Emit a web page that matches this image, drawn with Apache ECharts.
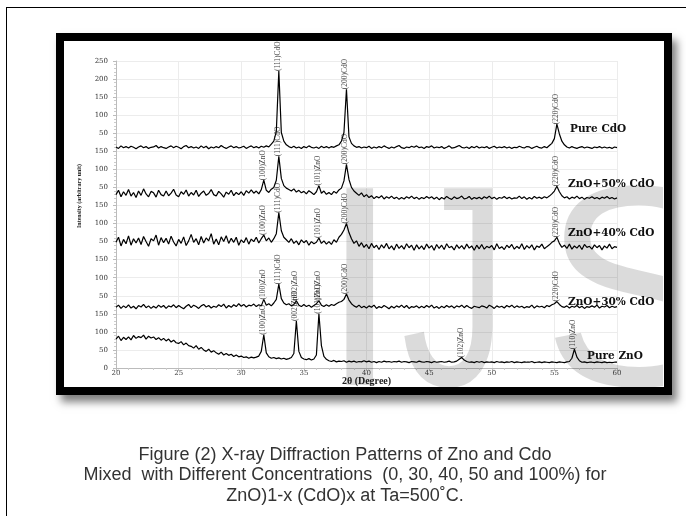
<!DOCTYPE html>
<html><head><meta charset="utf-8">
<script src="https://cdn.jsdelivr.net/npm/echarts/dist/echarts.min.js"></script>
<style>
html,body{margin:0;padding:0;background:#fff;}
body{width:686px;height:516px;position:relative;overflow:hidden;}
#outer{position:absolute;left:6px;top:7px;width:700px;height:520px;border-left:1.5px solid #000;border-top:1.5px solid #000;}
#frame{position:absolute;left:56px;top:33px;width:616px;height:362px;box-sizing:border-box;border:8px solid #000;background:#fff;box-shadow:5px 7px 8px rgba(0,0,0,0.5);}
#chart{position:absolute;left:0;top:0;width:686px;height:516px;}
#wm{position:absolute;left:63px;top:41px;width:600px;height:346px;overflow:hidden;pointer-events:none;}
#wm span{position:absolute;top:102px;font:286px/1 "Liberation Sans";color:rgba(0,0,0,0.14);white-space:nowrap;transform-origin:0 0;}
</style></head>
<body>
<div id="outer"></div>
<div id="frame"></div>
<div id="chart"></div>
<div id="wm"><span style="left:257px">I</span><span style="left:338px;transform:scaleX(0.75)">J</span><span style="left:479px">S</span></div>
<script>
// 2θ sampling grid (degrees), 20..60 step 0.2
const twoTheta = [];
for (let i = 0; i <= 200; i++) twoTheta.push(Math.round((20 + i * 0.2) * 10) / 10);

// y tick labels (stacked patterns, each 50 units)
const yTickLabels = ['0','50','100','150','50','100','150','50','100','150','50','100','150','50','100','150','200','250'];

// Pure ZnO (plotted on stacked axis)
const pureZnO = [
80,88,76,85,79, 86,78,90,82,87, 84,91,80,88,83, 86,79,84,77,82,
75,80,72,77,70, 68,73,64,69,62, 60,55,62,52,57, 50,46,52,44,48,
42,38,44,36,40, 35,38,32,36,31, 33,29,31,27,30, 28,30,33,46,92,
42,31,27,29,26, 28,25,27,24,26, 29,40,130,46,29, 25,23,26,22,25,
36,150,62,32,24, 20,18,21,17,19, 18,20,16,19,17, 19,16,18,17,20,
17,19,16,18,15, 18,16,19,17,18, 16,18,17,19,16, 18,17,15,18,17,
16,19,17,16,18, 17,15,18,16,17, 18,16,17,19,16, 17,19,24,29,22,
18,16,17,15,18, 16,18,15,17,16, 17,15,18,16,17, 15,17,16,18,15,
17,16,15,17,16, 16,18,15,16,17, 15,17,16,15,17, 16,15,17,16,15,
17,18,27,52,30, 20,16,17,15,16, 16,15,17,16,15, 17,15,16,15,16,
16];

// ZnO + 30% CdO
const zno30 = [
168,174,165,172,167, 175,166,171,164,173, 169,176,167,172,165, 171,166,174,168,173,
165,172,169,175,167, 173,168,164,171,176, 167,174,170,165,172, 176,169,173,166,171,
168,175,170,177,166, 173,168,175,170,178, 171,176,169,174,172, 177,170,175,172,190,
174,178,172,180,190, 232,192,180,175,178, 172,176,186,174,170, 176,170,174,168,173,
178,186,174,170,175, 171,176,173,178,182, 184,190,205,188,178, 172,168,174,167,171,
166,172,168,174,165, 170,167,173,169,164, 171,166,172,168,174, 167,173,165,170,168,
172,166,171,167,173, 168,174,166,170,165, 171,167,173,168,172, 166,172,169,174,167,
173,168,165,171,169, 167,172,170,166,174, 170,165,172,168,171, 166,173,169,174,167,
172,168,171,166,170, 168,174,166,172,169, 171,167,173,170,175, 178,184,176,170,168,
172,166,171,168,173, 167,171,165,170,168, 172,168,174,166,171, 169,173,167,171,168,
170];

// ZnO + 40% CdO
const zno40 = [
348,362,338,356,344, 366,340,358,346,360, 342,364,350,337,358, 352,368,340,361,347,
359,343,365,349,338, 356,345,363,339,352, 370,348,358,341,364, 346,360,352,372,343,
357,341,363,350,366, 345,359,348,362,340, 355,347,361,343,357, 350,362,346,358,368,
352,360,348,358,372, 430,380,362,355,348, 358,345,352,341,355, 347,353,340,350,344,
348,360,345,352,343, 350,342,355,348,362, 370,382,400,375,358, 345,352,337,347,334,
342,330,345,333,340, 328,341,332,345,330, 338,327,343,331,339, 329,344,333,340,326,
341,330,338,328,343, 332,339,326,342,331, 340,328,344,333,337, 327,341,331,339,329,
343,332,338,326,340, 330,342,329,337,333, 339,327,344,331,336, 328,340,333,342,329,
337,331,344,328,339, 332,341,327,338,334, 343,330,336,341,348, 352,362,345,334,340,
331,343,329,338,332, 340,328,342,334,337, 329,341,333,339,327, 338,332,343,330,336,
334];

// ZnO + 50% CdO
const zno50 = [
480,492,474,488,478, 494,476,486,472,490, 478,496,482,474,489, 485,473,492,480,476,
490,477,484,495,479, 474,488,481,493,476, 486,479,492,475,484, 490,478,483,494,480,
476,489,482,473,487, 481,492,477,486,480, 488,478,491,484,493, 484,490,482,494,520,
492,486,495,500,520, 586,525,505,498,494, 490,496,487,492,485, 489,482,491,486,480,
488,505,484,490,481, 486,480,489,484,493, 498,518,564,522,500, 490,484,478,485,474,
480,472,477,469,475, 471,477,468,474,470, 476,469,473,467,472, 468,474,470,476,469,
473,467,472,469,475, 470,474,468,473,466, 472,468,475,470,467, 474,469,471,476,468,
470,475,467,472,469, 473,468,474,470,476, 469,473,467,472,470, 475,469,473,468,471,
470,476,469,474,467, 472,468,475,470,473, 469,474,471,476,482, 490,503,488,477,471,
474,468,473,470,476, 469,473,467,472,470, 474,469,472,468,473, 470,475,469,472,468,
471];

// Pure CdO
const pureCdO = [
612,608,615,610,613, 609,614,611,607,612, 615,610,613,608,611, 612,616,609,613,610,
608,612,615,610,614, 611,607,613,616,610, 613,609,612,608,615, 610,614,607,612,609,
613,610,616,611,608, 612,615,610,613,609, 611,614,608,612,615, 610,613,609,614,611,
615,612,620,628,655, 822,652,628,618,613, 610,614,609,612,608, 613,610,615,611,609,
612,608,614,610,613, 609,613,611,615,618, 628,652,772,640,622, 615,611,613,609,612,
610,614,608,612,609, 613,610,615,611,608, 612,609,613,616,610, 608,612,610,614,611,
615,610,612,608,613, 611,615,609,612,610, 613,608,611,615,609, 610,613,616,611,609,
612,608,613,610,614, 609,612,610,613,608, 611,614,609,612,610, 613,609,612,608,611,
610,614,611,609,613, 612,608,611,614,610, 609,613,610,616,622, 635,675,648,628,618,
612,609,613,610,608, 611,613,609,612,610, 608,612,610,613,609, 612,609,611,608,612,
610];

const seriesNames = ['Pure CdO','ZnO+50% CdO','ZnO+40% CdO','ZnO+30% CdO','Pure ZnO'];
const seriesData = { cdo: pureCdO, c50: zno50, c40: zno40, c30: zno30, zno: pureZnO };

// peak annotations: [pattern, 2θ, text]
const peakLabels = [
  ['cdo',33.0,'(111)CdO'],['cdo',38.4,'(200)CdO'],['cdo',55.2,'(220)CdO'],
  ['c50',31.8,'(100)ZnO'],['c50',33.0,'(111)CdO'],['c50',36.2,'(101)ZnO'],['c50',38.4,'(200)CdO'],['c50',55.2,'(220)CdO'],
  ['c40',31.8,'(100)ZnO'],['c40',33.0,'(111)CdO'],['c40',36.2,'(101)ZnO'],['c40',38.4,'(200)CdO'],['c40',55.2,'(220)CdO'],
  ['c30',31.8,'(100)ZnO'],['c30',33.0,'(111)CdO'],['c30',34.4,'(002)ZnO'],['c30',36.2,'(101)ZnO'],['c30',38.4,'(200)CdO'],['c30',55.2,'(220)CdO'],
  ['zno',31.8,'(100)ZnO'],['zno',34.4,'(002)ZnO'],['zno',36.2,'(101)ZnO'],['zno',47.6,'(102)ZnO'],['zno',56.6,'(110)ZnO']
];

function peakTop(arr, x) {
  const idx = twoTheta.findIndex(t => Math.abs(t - x) < 0.01);
  let m = -Infinity;
  for (let k = Math.max(0, idx - 1); k <= Math.min(arr.length - 1, idx + 1); k++) m = Math.max(m, arr[k]);
  return m;
}

const lineSeries = ['cdo','c50','c40','c30','zno'].map((key, i) => ({
  type: 'line', name: seriesNames[i], showSymbol: false, symbol: 'none',
  data: twoTheta.map((t, j) => [t, seriesData[key][j]]),
  lineStyle: { color: '#000', width: 1.2 }, z: 3, animation: false
}));

const labelSeries = {
  type: 'scatter', symbol: 'circle', symbolSize: 0.01, z: 5, animation: false,
  itemStyle: { color: 'transparent' },
  data: peakLabels.map(p => ({ name: p[2], value: [p[1], peakTop(seriesData[p[0]], p[1])] })),
  label: {
    show: true, position: 'inside', rotate: 90, align: 'left', verticalAlign: 'middle',
    offset: [0, -1], formatter: p => p.name,
    fontFamily: 'Liberation Serif', fontSize: 7.5, color: '#111'
  }
};

const nameFont = 'bold 10.5px "DejaVu Serif"';
const capFont = '18px "Liberation Sans"';
const chart = echarts.init(document.getElementById('chart'), null, { renderer: 'canvas' });
chart.setOption({
  backgroundColor: 'transparent',
  animation: false,
  grid: { left: 116, right: 69, top: 61, bottom: 148 },
  xAxis: {
    type: 'value', min: 20, max: 60, interval: 5,
    name: '2θ (Degree)', nameLocation: 'middle', nameGap: 8, nameMoveOverlap: false,
    nameTextStyle: { fontFamily: 'Liberation Serif', fontWeight: 'bold', fontSize: 10, color: '#222', verticalAlign: 'top' },
    axisLine: { lineStyle: { color: '#bbb', width: 1 } },
    axisTick: { show: true, length: 3, lineStyle: { color: '#bbb' } },
    minorTick: { show: true, splitNumber: 5, length: 2, lineStyle: { color: '#ccc' } },
    splitLine: { show: true, lineStyle: { color: '#ececec' } },
    axisLabel: { fontFamily: 'DejaVu Serif', fontSize: 7, color: '#444', margin: 2 }
  },
  yAxis: {
    type: 'value', min: 0, max: 850, interval: 50,
    axisLine: { show: true, lineStyle: { color: '#bbb', width: 1 } },
    axisTick: { show: true, length: 3, lineStyle: { color: '#bbb' } },
    minorTick: { show: true, splitNumber: 5, length: 2, lineStyle: { color: '#ccc' } },
    splitLine: { show: true, lineStyle: { color: '#ececec' } },
    axisLabel: { fontFamily: 'DejaVu Serif', fontSize: 7, color: '#333', margin: 8,
      formatter: v => yTickLabels[Math.round(v / 50)] }
  },
  series: lineSeries.concat([labelSeries]),
  graphic: [
    { type: 'text', x: 79, y: 196, rotation: Math.PI / 2, z: 10,
      style: { text: 'Intensity (arbitrary unit)', font: 'bold 6px "Liberation Serif"', fill: '#222', textAlign: 'center', textVerticalAlign: 'middle', align: 'center', verticalAlign: 'middle' } },
    { type: 'text', x: 570, y: 129, z: 10, style: { text: seriesNames[0], font: nameFont, fill: '#111', textVerticalAlign: 'middle', verticalAlign: 'middle' } },
    { type: 'text', x: 568, y: 184, z: 10, style: { text: seriesNames[1], font: nameFont, fill: '#111', textVerticalAlign: 'middle', verticalAlign: 'middle' } },
    { type: 'text', x: 568, y: 233, z: 10, style: { text: seriesNames[2], font: nameFont, fill: '#111', textVerticalAlign: 'middle', verticalAlign: 'middle' } },
    { type: 'text', x: 568, y: 302, z: 10, style: { text: seriesNames[3], font: nameFont, fill: '#111', textVerticalAlign: 'middle', verticalAlign: 'middle' } },
    { type: 'text', x: 587, y: 356, z: 10, style: { text: seriesNames[4], font: nameFont, fill: '#111', textVerticalAlign: 'middle', verticalAlign: 'middle' } },
    { type: 'text', x: 345, y: 455, z: 10, style: { text: 'Figure (2) X-ray Diffraction Patterns of Zno and Cdo', font: capFont, fill: '#333', textAlign: 'center', align: 'center', textVerticalAlign: 'middle', verticalAlign: 'middle' } },
    { type: 'text', x: 345, y: 475, z: 10, style: { text: 'Mixed  with Different Concentrations  (0, 30, 40, 50 and 100%) for', font: capFont, fill: '#333', textAlign: 'center', align: 'center', textVerticalAlign: 'middle', verticalAlign: 'middle' } },
    { type: 'text', x: 345, y: 496, z: 10, style: { text: 'ZnO)1-x (CdO)x at Ta=500˚C.', font: capFont, fill: '#333', textAlign: 'center', align: 'center', textVerticalAlign: 'middle', verticalAlign: 'middle' } }
  ]
});
</script>
</body></html>
